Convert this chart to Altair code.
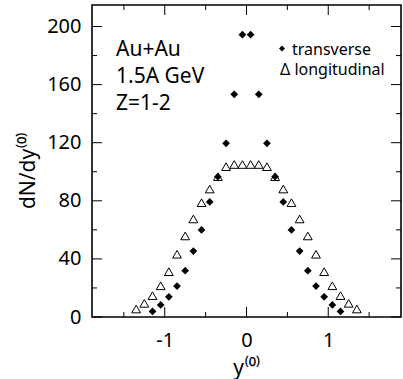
import altair as alt
import pandas as pd

# ---- data ----
x_trans = [-1.15, -1.05, -0.95, -0.85, -0.75, -0.65, -0.55, -0.45, -0.35, -0.25, -0.15, -0.05,
           0.05, 0.15, 0.25, 0.35, 0.45, 0.55, 0.65, 0.75, 0.85, 0.95, 1.05, 1.15]
y_trans = [3.8, 8.3, 13.9, 21.3, 31.9, 45.4, 59.9, 79.2, 96.6, 119.6, 153.3, 194.4,
           194.4, 153.3, 119.6, 96.6, 79.2, 59.9, 45.4, 31.9, 21.3, 13.9, 8.3, 3.8]
x_long = [-1.35, -1.25, -1.15, -1.05, -0.95, -0.85, -0.75, -0.65, -0.55, -0.45, -0.35, -0.25, -0.15, -0.05,
          0.05, 0.15, 0.25, 0.35, 0.45, 0.55, 0.65, 0.75, 0.85, 0.95, 1.05, 1.15, 1.25, 1.35]
y_long = [5.5, 9.4, 14.7, 21.5, 31.2, 43.2, 55.8, 67.5, 78.7, 88.1, 96.6, 103.5, 105, 105,
          105, 105, 103.5, 96.6, 88.1, 78.7, 67.5, 55.8, 43.2, 31.2, 21.5, 14.7, 9.4, 5.5]

y_major = [0, 40, 80, 120, 160, 200]
y_minor = [20, 60, 100, 140, 180]
x_major = [-1, 0, 1]
x_minor = [-1.5, -0.5, 0.5, 1.5]

annot_lines = ["Au+Au", "1.5A GeV", "Z=1-2"]
legend_labels = ["transverse", "Δ longitudinal"]

FONT = "Noto Sans"
W, H = 309, 312
XD = [-1.89, 1.89]
YD = [0, 214.8]

xs = alt.Scale(domain=XD, nice=False, zero=False)
ys = alt.Scale(domain=YD, nice=False, zero=False)

xaxis = alt.Axis(values=x_major, format="d",
                 labelExpr="replace(datum.label, '\u2212', '-')",
                 ticks=False, tickSize=0, domain=False, grid=False,
                 labelFont=FONT, labelFontSize=20, labelColor="black", labelPadding=13,
                 title="y⁽⁰⁾", titleFont=FONT, titleFontSize=21, titleFontWeight="normal",
                 titleColor="black", titlePadding=7)
yaxis = alt.Axis(values=y_major, format="d", ticks=False, tickSize=0, domain=False, grid=False,
                 labelFont=FONT, labelFontSize=20, labelColor="black", labelPadding=11,
                 title="dN/dy⁽⁰⁾", titleFont=FONT, titleFontSize=21, titleFontWeight="normal",
                 titleColor="black", titlePadding=8, titleY=165)

X = lambda f: alt.X(f, scale=xs, axis=xaxis)
Y = lambda f: alt.Y(f, scale=ys, axis=yaxis)

pts_l = alt.Chart(pd.DataFrame({"x": x_long, "y": y_long})).mark_point(
    shape="triangle-up", filled=False, color="black", size=78, strokeWidth=1, opacity=1
).encode(x=X("x:Q"), y=Y("y:Q"))
pts_t = alt.Chart(pd.DataFrame({"x": x_trans, "y": y_trans})).mark_point(
    shape="diamond", filled=True, color="black", size=60, opacity=1
).encode(x=X("x:Q"), y=Y("y:Q"))

def yticks(vals, length):
    df = pd.DataFrame({"y": vals})
    left = alt.Chart(df).mark_rule(color="black", strokeWidth=1).encode(
        y=Y("y:Q"), x=alt.value(0), x2=alt.value(length))
    right = alt.Chart(df).mark_rule(color="black", strokeWidth=1).encode(
        y=Y("y:Q"), x=alt.value(W - length), x2=alt.value(W))
    return [left, right]

def xticks(vals, length):
    df = pd.DataFrame({"x": vals})
    bot = alt.Chart(df).mark_rule(color="black", strokeWidth=1).encode(
        x=X("x:Q"), y=alt.value(H - length), y2=alt.value(H))
    top = alt.Chart(df).mark_rule(color="black", strokeWidth=1).encode(
        x=X("x:Q"), y=alt.value(0), y2=alt.value(length))
    return [bot, top]

ticks = yticks(y_major, 10) + yticks(y_minor, 5) + xticks(x_major, 10) + xticks(x_minor, 5)

def label(text, px, py, size, align="left"):
    return alt.Chart(pd.DataFrame({"t": [text]})).mark_text(
        align=align, baseline="alphabetic", font=FONT, fontSize=size, color="black"
    ).encode(text="t:N", x=alt.value(px), y=alt.value(py))

texts = [
    label(annot_lines[0], 24, 50.5, 21),
    label(annot_lines[1], 24, 78, 21),
    label(annot_lines[2], 24, 105, 21),
    label(legend_labels[0], 200, 50, 16),
    label(legend_labels[1], 188, 70, 16),
]

leg_sym = alt.Chart(pd.DataFrame({"k": ["transverse"]})).mark_point(
    shape="diamond", filled=True, color="black", size=36, opacity=1
).encode(x=alt.value(190), y=alt.value(43.5))

chart = alt.layer(pts_l, pts_t, *ticks, *texts, leg_sym).properties(
    width=W, height=H,
    autosize=alt.AutoSizeParams(type="none"),
    padding={"left": 92, "top": 5, "right": 2, "bottom": 62},
).configure(background="white").configure_view(stroke="black", strokeWidth=1.6)

chart.save("out.html", embed_options={"renderer": "svg", "actions": False})
